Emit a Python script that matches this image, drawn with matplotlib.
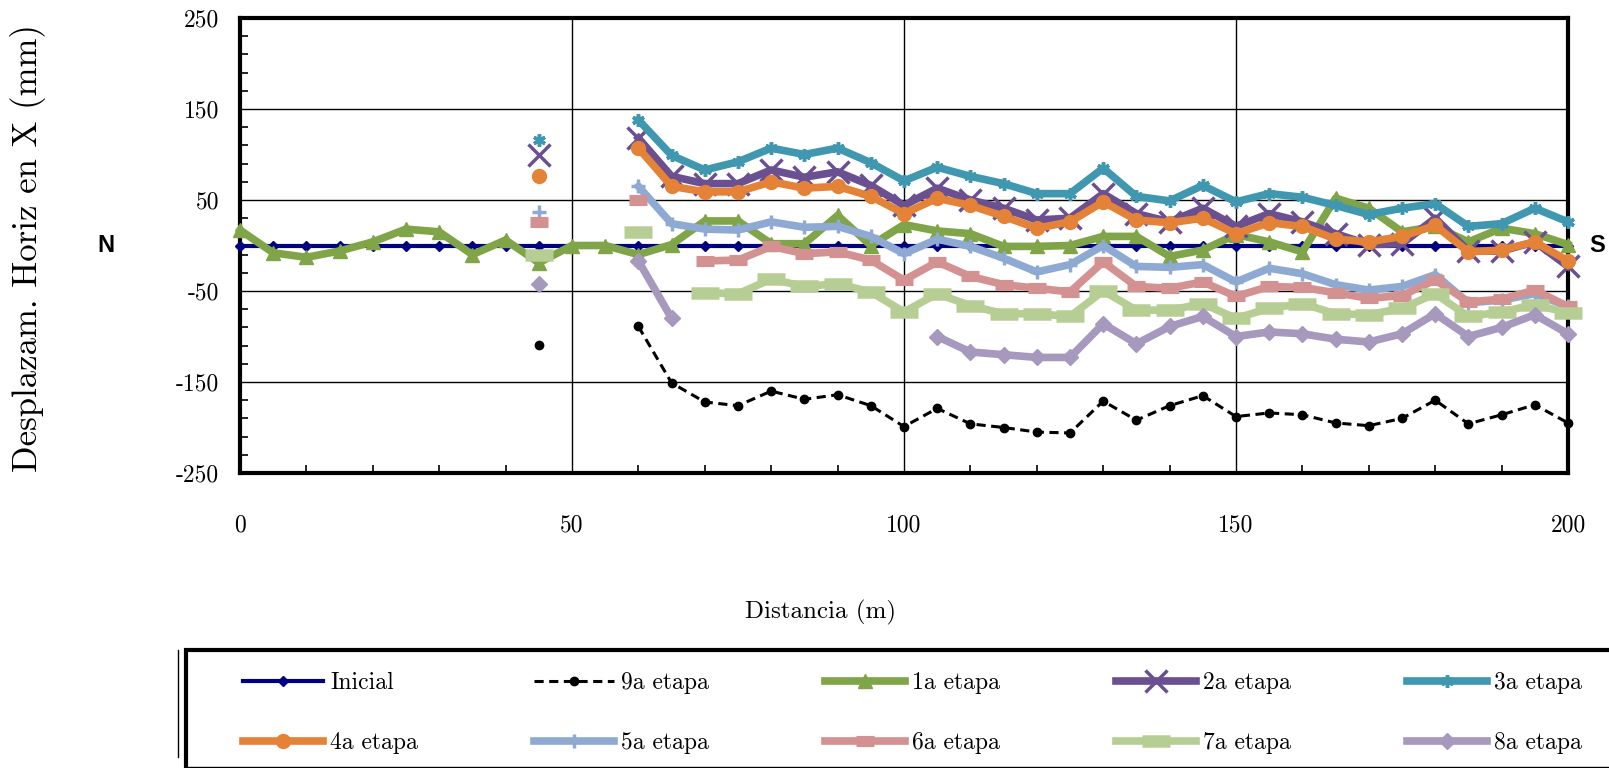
import numpy as np
import matplotlib
matplotlib.use('Agg')
import matplotlib.pyplot as plt
from matplotlib.patches import Rectangle
from matplotlib.lines import Line2D

plt.rcParams['font.family'] = ['cmr10', 'DejaVu Serif']
plt.rcParams['axes.unicode_minus'] = False

n = np.nan

# distance along the section (m), every 5 m
distancia = np.arange(0, 201, 5)

# horizontal displacement (mm), one list per stage, 41 values (0..200 m)
inicial = [0.0] * 41
etapa9 = [n] * 9 + [-109, n, n, -89, -151, -172, -176, -160, -169, -164, -176] \
    + [-199, -179, -196, -200, -205, -206, -171, -192, -176, -165] \
    + [-188, -184, -186, -195, -198, -190, -170, -196, -186, -175] + [-195]
etapa1 = [17, -8, -13, -6, 4, 18, 15, -10, 6, -19] \
    + [0, 0, -10, 1, 27, 27, 2, 2, 33, 0] \
    + [23, 16, 13, -1, -1, 0, 10, 10, -12, -5] \
    + [12, 4, -7, 52, 41, 15, 21, 4, 19, 13] + [1]
etapa2 = [n] * 9 + [99, n, n, 118, 76, 68, 68, 83, 75, 81, 66] \
    + [44, 63, 50, 41, 28, 30, 57, 35, 26, 41] \
    + [21, 35, 26, 13, 1, 2, 30, -6, -6, 4] + [-23]
etapa3 = [n] * 9 + [116, n, n, 138, 99, 83, 92, 107, 100, 107, 91] \
    + [71, 86, 76, 68, 57, 57, 85, 54, 49, 66] \
    + [48, 57, 53, 44, 34, 41, 46, 21, 24, 41] + [26]
etapa4 = [n] * 9 + [76, n, n, 107, 65, 59, 59, 70, 63, 65, 54] \
    + [35, 52, 44, 32, 19, 26, 48, 28, 25, 30] \
    + [13, 25, 21, 7, 4, 10, 22, -7, -5, 4] + [-17]
etapa5 = [n] * 9 + [37, n, n, 65, 24, 18, 17, 26, 20, 21, 10] \
    + [-9, 7, -1, -14, -29, -21, 0, -23, -24, -21] \
    + [-40, -25, -31, -43, -49, -45, -32, -63, -60, -53] + [-67]
etapa6 = [n] * 9 + [26, n, n, 50, n, -17, -16, -1, -9, -7, -16] \
    + [-38, -18, -34, -43, -47, -51, -18, -45, -47, -40] \
    + [-56, -45, -46, -52, -58, -55, -38, -62, -59, -49] + [-67]
etapa7 = [n] * 9 + [-10, n, n, 15, n, -52, -53, -37, -45, -42, -51] \
    + [-73, -53, -66, -75, -75, -78, -50, -71, -71, -64] \
    + [-80, -69, -64, -75, -76, -69, -53, -78, -73, -65] + [-74]
etapa8 = [n] * 9 + [-42, n, n, -17, -80, n, n, n, n, n, n] \
    + [n, -100, -117, -120, -123, -123, -86, -108, -89, -78] \
    + [-100, -95, -97, -103, -106, -97, -75, -100, -90, -76] + [-97]

xticks = [0, 50, 100, 150, 200]
yticks = [250, 150, 50, -50, -150, -250]

W, H = 1609, 768
fig = plt.figure(figsize=(W / 100, H / 100), dpi=100)
ax = fig.add_axes([240/W, 1-473/H, 1328/W, 455/H])

series = [
    ('Inicial', inicial, dict(color='#000080', lw=3, marker='D', ms=5)),
    ('9a etapa', etapa9, dict(color='black', lw=2.2, ls=(0, (3, 1.8)), marker='o', ms=6)),
    ('1a etapa', etapa1, dict(color='#80A448', lw=5.5, marker='^', ms=10)),
    ('2a etapa', etapa2, dict(color='#6A5091', lw=5.5, marker='x', ms=16, mew=2.5)),
    ('3a etapa', etapa3, dict(color='#4098B0', lw=5.5, marker=(6, 2, 0), ms=9, mew=2.5)),
    ('4a etapa', etapa4, dict(color='#E48237', lw=5.5, marker='o', ms=10)),
    ('5a etapa', etapa5, dict(color='#8FAAD2', lw=5.5, marker='+', ms=10, mew=2.5)),
    ('6a etapa', etapa6, dict(color='#D49191', lw=5.5, marker='_', ms=13, mew=8)),
    ('7a etapa', etapa7, dict(color='#B6CE94', lw=5.5, marker='_', ms=20, mew=9)),
    ('8a etapa', etapa8, dict(color='#A798BE', lw=5.5, marker='D', ms=8)),
]

handles = []
for i, (lab, vals, st) in enumerate(series):
    h, = ax.plot(distancia, vals, label=lab, clip_on=False, zorder=3 + i, **st)
    handles.append(h)

ax.set_xlim(0, 200)
ax.set_ylim(-250, 250)
ax.set_xticks(xticks)
ax.set_xticklabels([str(v) for v in xticks])
ax.set_yticks(yticks)
ax.set_yticklabels([str(v) for v in yticks])
ax.set_xticks(np.arange(0, 201, 10), minor=True)
ax.set_yticks(np.arange(-250, 251, 20), minor=True)
ax.tick_params(axis='both', which='both', direction='in', labelsize=17)
ax.tick_params(axis='x', which='major', length=0, pad=30)
ax.tick_params(axis='y', which='major', length=0, pad=15)
ax.tick_params(which='minor', length=6, width=1.2)
ax.grid(True, which='major', color='black', lw=1.0)
ax.set_axisbelow(True)
for s in ax.spines.values():
    s.set_linewidth(3)

fig.text(821/W, 1-612/H, 'Distancia (m)', ha='center', va='center', fontsize=18)
fig.text(28/W, 1-248/H, 'Desplazam. Horiz en X (mm)', ha='center', va='center',
         rotation=90, fontsize=25)
fig.text(106/W, 1-246/H, 'N', ha='center', va='center', fontsize=17,
         fontweight='bold', family='Liberation Sans')
fig.text(1597/W, 1-246/H, 'S', ha='center', va='center', fontsize=17,
         fontweight='bold', family='Liberation Sans')

# legend frame (runs off the right edge like the original)
fig.patches.append(Rectangle((186/W, -0.01), 1.0, (768 - 650)/H + 0.01,
                             transform=fig.transFigure, fill=False,
                             edgecolor='black', lw=3))
fig.lines.append(Line2D([186/W, 1.0], [1-766.5/H, 1-766.5/H],
                        transform=fig.transFigure, color='black', lw=1))
fig.lines.append(Line2D([178/W, 178/W], [1-650/H, 1-757/H],
                        transform=fig.transFigure, color='black', lw=1))

# row-wise order for a column-filled legend
order = [0, 5, 1, 6, 2, 7, 3, 8, 4, 9]
leg = fig.legend(handles=[handles[k] for k in order], loc='upper left', ncol=5,
                 bbox_to_anchor=(243/W, 1-672/H), borderaxespad=0, borderpad=0,
                 fontsize=17, handlelength=3.4, handletextpad=0.3,
                 columnspacing=4.9, labelspacing=1.6, frameon=False)

fig.savefig('out.png', dpi=100)
